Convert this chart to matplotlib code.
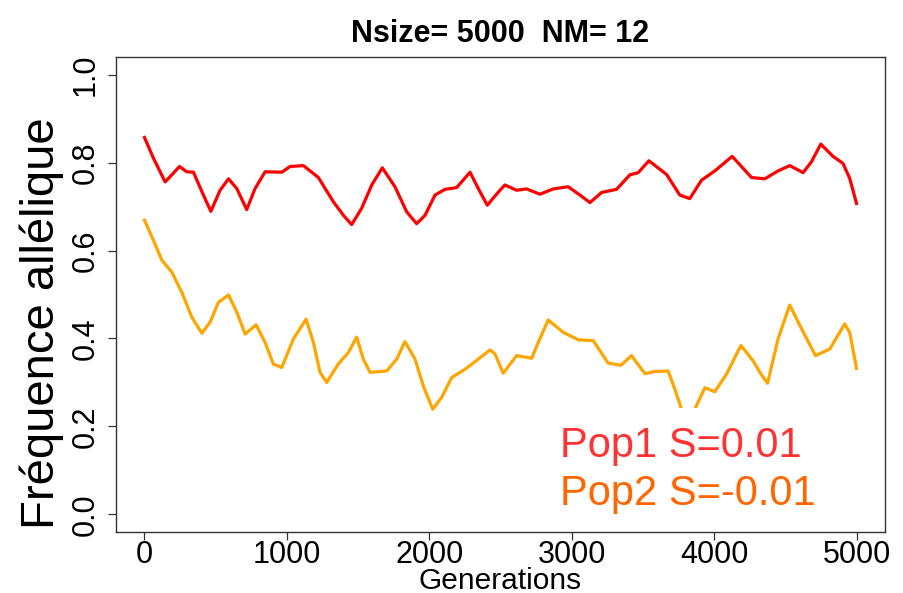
import matplotlib
matplotlib.use("Agg")
import matplotlib.pyplot as plt
from matplotlib.patches import Rectangle

plt.rcParams['font.family'] = ['Liberation Sans', 'DejaVu Sans']

# allele frequency trajectories (generation, frequency)
gen_pop1 = [0, 63, 145, 192, 246, 297, 344, 403, 466, 531, 590, 648, 718, 777,
            847, 964, 1022, 1116, 1221, 1326, 1397, 1455, 1525, 1596, 1670,
            1759, 1841, 1911, 1970, 2040, 2110, 2192, 2286, 2344, 2407, 2496,
            2531, 2613, 2683, 2777, 2870, 2975, 3058, 3128, 3210, 3315, 3408,
            3467, 3542, 3666, 3759, 3829, 3912, 4005, 4127, 4262, 4356, 4449,
            4531, 4625, 4684, 4749, 4835, 4905, 4952, 5000]
freq_pop1 = [0.857, 0.810, 0.756, 0.772, 0.791, 0.779, 0.778, 0.734, 0.689,
             0.737, 0.763, 0.741, 0.693, 0.741, 0.779, 0.778, 0.791, 0.793,
             0.766, 0.711, 0.680, 0.659, 0.696, 0.749, 0.788, 0.745, 0.688,
             0.661, 0.680, 0.726, 0.739, 0.743, 0.778, 0.741, 0.703, 0.737,
             0.749, 0.737, 0.740, 0.728, 0.740, 0.745, 0.726, 0.709, 0.732,
             0.739, 0.772, 0.777, 0.804, 0.773, 0.726, 0.718, 0.760, 0.781,
             0.814, 0.766, 0.763, 0.781, 0.793, 0.777, 0.802, 0.842, 0.814,
             0.798, 0.764, 0.707]

gen_pop2 = [0, 63, 122, 192, 262, 333, 403, 461, 519, 590, 648, 707, 784, 847,
            905, 964, 1046, 1135, 1186, 1233, 1280, 1361, 1432, 1490, 1537,
            1584, 1701, 1771, 1829, 1900, 1958, 2024, 2087, 2157, 2251, 2344,
            2426, 2461, 2519, 2613, 2719, 2765, 2835, 2940, 3046, 3151, 3256,
            3345, 3420, 3514, 3584, 3677, 3724, 3771, 3815, 3864, 3935, 4005,
            4087, 4188, 4274, 4321, 4375, 4449, 4531, 4614, 4712, 4812, 4917,
            4952, 5000]
freq_pop2 = [0.669, 0.623, 0.578, 0.551, 0.505, 0.448, 0.412, 0.437, 0.482,
             0.499, 0.460, 0.410, 0.431, 0.391, 0.342, 0.334, 0.399, 0.444,
             0.391, 0.323, 0.300, 0.342, 0.368, 0.403, 0.353, 0.323, 0.326,
             0.353, 0.393, 0.353, 0.292, 0.239, 0.266, 0.311, 0.330, 0.353,
             0.374, 0.365, 0.321, 0.361, 0.355, 0.391, 0.442, 0.414, 0.397,
             0.395, 0.344, 0.339, 0.361, 0.320, 0.325, 0.326, 0.285, 0.239,
             0.200, 0.239, 0.288, 0.279, 0.319, 0.384, 0.349, 0.323, 0.298,
             0.399, 0.476, 0.422, 0.361, 0.376, 0.433, 0.414, 0.332]

labels = ['Pop1 S=0.01', 'Pop2 S=-0.01']
label_colors = ['#FF3333', '#FF6600']
title = 'Nsize= 5000  NM= 12'

fig = plt.figure(figsize=(9.04, 5.93), dpi=100)
ax = fig.add_axes([0.1283, 0.1029, 0.8507, 0.801])

ax.plot(gen_pop1, freq_pop1, color='#FF0000', lw=2.3)
ax.plot(gen_pop2, freq_pop2, color='#FFA500', lw=2.3)

ax.set_xlim(-200, 5200)
ax.set_ylim(-0.04, 1.04)
ax.set_xticks([0, 1000, 2000, 3000, 4000, 5000])
ax.set_yticks([0.0, 0.2, 0.4, 0.6, 0.8, 1.0])
ax.set_yticklabels(['0.0', '0.2', '0.4', '0.6', '0.8', '1.0'],
                   rotation=90, va='center')
ax.tick_params(axis='both', direction='out', length=6, width=0.9,
               labelsize=22, color='#333333')
ax.tick_params(axis='x', pad=0)
ax.tick_params(axis='y', pad=5)
for s in ax.spines.values():
    s.set_linewidth(1.0)
    s.set_color('#333333')

ax.set_xlabel('Generations', fontsize=21.5, labelpad=-2.5)
ax.set_ylabel('Fréquence allélique', fontsize=34)
ax.yaxis.set_label_coords(-0.068, 0.44)
ax.set_title(title, fontsize=22, fontweight='bold', pad=11)

# legend box: white panel over the lower right corner, text only
ax.add_patch(Rectangle((0.551, 0.0), 0.449, 0.261, transform=ax.transAxes,
                       facecolor='white', edgecolor='none', zorder=2.2))
for lab, col, yb in zip(labels, label_colors, [0.158, 0.057]):
    ax.text(0.577, yb, lab, transform=ax.transAxes, color=col, fontsize=30,
            ha='left', va='baseline', zorder=3)

fig.savefig('out.png', dpi=100)
